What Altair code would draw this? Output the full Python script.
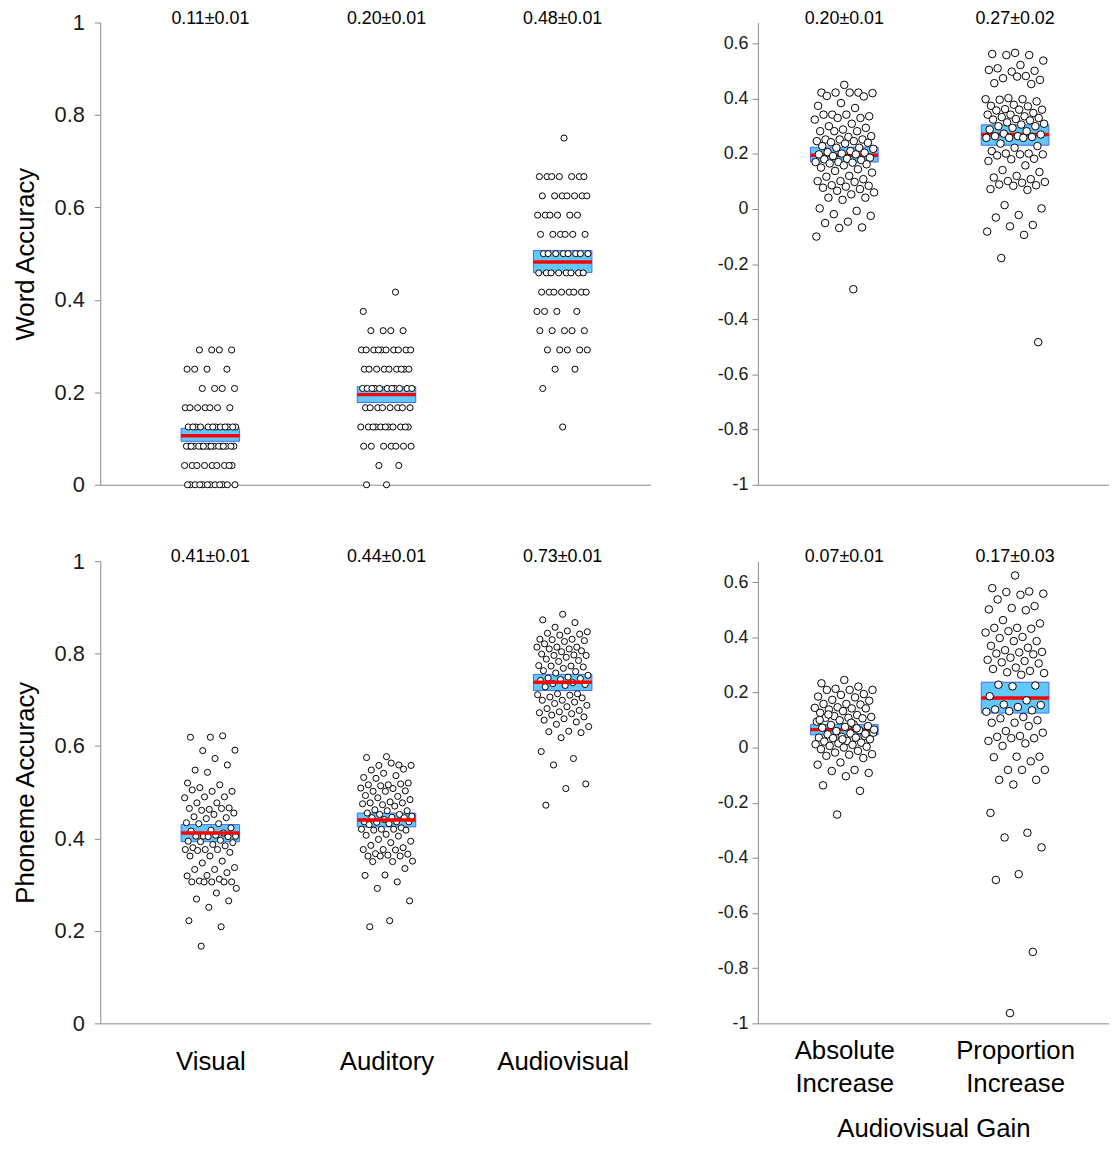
import altair as alt
import pandas as pd

FONT = "Liberation Sans"

# ---------------- data ----------------
# Word accuracy is scored in 24ths: counts of participants per level k/24
word_levels = [k / 24 for k in range(19)]
word_visual_counts = [12, 9, 17, 12, 7, 4, 4, 4, 0, 0, 0, 0, 0, 0, 0, 0, 0, 0, 0]
word_auditory_counts = [2, 2, 7, 11, 8, 11, 9, 10, 4, 1, 1, 0, 0, 0, 0, 0, 0, 0, 0]
word_av_counts = [0, 0, 0, 1, 0, 1, 2, 5, 5, 4, 8, 8, 8, 6, 6, 7, 7, 0, 1]

phon_visual = [0.619, 0.619, 0.622, 0.590, 0.591, 0.573, 0.548, 0.559, 0.543, 0.520, 0.516, 0.510,
               0.502, 0.502, 0.505, 0.490, 0.490, 0.488, 0.477, 0.477, 0.466, 0.463, 0.465, 0.465,
               0.461, 0.455, 0.452, 0.447, 0.445, 0.443, 0.434, 0.432, 0.432, 0.423, 0.418, 0.416,
               0.412, 0.405, 0.405, 0.407, 0.405, 0.404, 0.404, 0.394, 0.396, 0.393, 0.391, 0.387,
               0.380, 0.384, 0.376, 0.376, 0.376, 0.374, 0.370, 0.362, 0.362, 0.351, 0.347, 0.337,
               0.333, 0.333, 0.326, 0.320, 0.319, 0.312, 0.308, 0.306, 0.306, 0.306, 0.306, 0.306,
               0.292, 0.282, 0.269, 0.265, 0.251, 0.222, 0.209, 0.167]
phon_auditory = [0.577, 0.575, 0.559, 0.558, 0.558, 0.563, 0.548, 0.550, 0.541, 0.532, 0.536, 0.530,
                 0.520, 0.516, 0.516, 0.518, 0.514, 0.509, 0.508, 0.502, 0.503, 0.502, 0.493, 0.491,
                 0.488, 0.484, 0.479, 0.477, 0.477, 0.473, 0.475, 0.470, 0.462, 0.460, 0.460, 0.455,
                 0.452, 0.452, 0.448, 0.446, 0.445, 0.445, 0.441, 0.436, 0.436, 0.435, 0.436, 0.432,
                 0.430, 0.423, 0.420, 0.420, 0.420, 0.418, 0.418, 0.409, 0.407, 0.405, 0.398, 0.394,
                 0.391, 0.385, 0.380, 0.376, 0.376, 0.375, 0.367, 0.366, 0.364, 0.362, 0.362, 0.362,
                 0.351, 0.350, 0.350, 0.335, 0.321, 0.320, 0.306, 0.292, 0.265, 0.222, 0.209]
phon_av = [0.885, 0.873, 0.867, 0.857, 0.847, 0.849, 0.844, 0.842, 0.840, 0.831, 0.831, 0.830,
           0.828, 0.826, 0.821, 0.814, 0.814, 0.814, 0.810, 0.810, 0.806, 0.804, 0.799, 0.797,
           0.796, 0.796, 0.792, 0.788, 0.785, 0.783, 0.774, 0.773, 0.773, 0.771, 0.768, 0.763,
           0.761, 0.758, 0.753, 0.749, 0.747, 0.746, 0.744, 0.742, 0.737, 0.735, 0.733, 0.731,
           0.728, 0.713, 0.713, 0.711, 0.710, 0.706, 0.704, 0.699, 0.699, 0.695, 0.692, 0.688,
           0.685, 0.681, 0.677, 0.674, 0.672, 0.670, 0.667, 0.663, 0.659, 0.656, 0.652, 0.647,
           0.642, 0.632, 0.631, 0.629, 0.618, 0.588, 0.573, 0.559, 0.518, 0.508, 0.472]

gain_word_abs = [0.450, 0.422, 0.422, 0.422, 0.420, 0.422, 0.410, 0.408, 0.384, 0.374, 0.366, 0.342,
                 0.336, 0.342, 0.342, 0.330, 0.330, 0.324, 0.309, 0.300, 0.294, 0.288, 0.282, 0.282,
                 0.282, 0.264, 0.261, 0.252, 0.252, 0.252, 0.246, 0.246, 0.242, 0.240, 0.237, 0.228,
                 0.222, 0.222, 0.218, 0.210, 0.206, 0.204, 0.201, 0.198, 0.198, 0.192, 0.186, 0.182,
                 0.180, 0.177, 0.170, 0.170, 0.168, 0.165, 0.162, 0.158, 0.150, 0.144, 0.138, 0.132,
                 0.120, 0.117, 0.108, 0.101, 0.101, 0.098, 0.086, 0.084, 0.081, 0.077, 0.072, 0.066,
                 0.060, 0.053, 0.041, 0.041, 0.033, 0.002, -0.007, -0.019, -0.025, -0.046, -0.051,
                 -0.067, -0.069, -0.100, -0.291]
gain_word_prop = [0.566, 0.562, 0.558, 0.558, 0.538, 0.522, 0.510, 0.501, 0.498, 0.504, 0.482, 0.474,
                  0.468, 0.480, 0.456, 0.453, 0.402, 0.398, 0.398, 0.396, 0.390, 0.378, 0.374, 0.372,
                  0.362, 0.360, 0.360, 0.357, 0.348, 0.342, 0.342, 0.336, 0.333, 0.330, 0.326, 0.324,
                  0.321, 0.314, 0.309, 0.306, 0.300, 0.300, 0.294, 0.288, 0.282, 0.273, 0.270, 0.264,
                  0.264, 0.261, 0.258, 0.258, 0.258, 0.237, 0.228, 0.222, 0.210, 0.201, 0.201, 0.198,
                  0.198, 0.194, 0.182, 0.180, 0.174, 0.158, 0.141, 0.134, 0.120, 0.114, 0.108, 0.101,
                  0.098, 0.095, 0.089, 0.086, 0.084, 0.072, 0.069, 0.014, 0.002, -0.022, -0.031,
                  -0.058, -0.063, -0.082, -0.094, -0.178, -0.483]
gain_phon_abs = [0.245, 0.233, 0.221, 0.213, 0.209, 0.209, 0.209, 0.194, 0.191, 0.185, 0.182, 0.173,
                 0.170, 0.158, 0.158, 0.156, 0.146, 0.144, 0.142, 0.138, 0.142, 0.132, 0.126, 0.118,
                 0.114, 0.111, 0.108, 0.108, 0.106, 0.099, 0.094, 0.084, 0.082, 0.078, 0.075, 0.072,
                 0.063, 0.060, 0.054, 0.051, 0.048, 0.042, 0.039, 0.036, 0.036, 0.034, 0.030, 0.024,
                 0.022, 0.018, 0.015, 0.012, 0.010, 0.006, 0.003, 0.000, -0.006, -0.012, -0.018,
                 -0.024, -0.026, -0.030, -0.038, -0.054, -0.062, -0.081, -0.085, -0.092, -0.104,
                 -0.137, -0.157, -0.243, 0.065, 0.090, 0.120, 0.050, 0.030, 0.100, 0.070]
gain_phon_prop = [0.624, 0.578, 0.566, 0.564, 0.558, 0.554, 0.537, 0.513, 0.506, 0.501, 0.498, 0.462,
                  0.450, 0.434, 0.434, 0.431, 0.422, 0.417, 0.401, 0.397, 0.386, 0.386, 0.369, 0.362,
                  0.353, 0.347, 0.345, 0.341, 0.338, 0.326, 0.318, 0.314, 0.309, 0.305, 0.290, 0.285,
                  0.278, 0.273, 0.270, 0.264, 0.228, 0.225, 0.222, 0.186, 0.171, 0.156, 0.154, 0.147,
                  0.138, 0.135, 0.132, 0.130, 0.111, 0.106, 0.099, 0.090, 0.090, 0.078, 0.060, 0.054,
                  0.042, 0.039, 0.034, 0.034, 0.024, 0.015, 0.006, -0.033, -0.033, -0.035, -0.050,
                  -0.081, -0.081, -0.081, -0.117, -0.117, -0.134, -0.237, -0.309, -0.326, -0.362,
                  -0.459, -0.480, -0.741, -0.963]

# summary (mean line, SEM box, label)
word_mean = [0.106, 0.195, 0.482]
word_lo = [0.094, 0.178, 0.459]
word_hi = [0.122, 0.212, 0.507]
word_text = ["0.11±0.01", "0.20±0.01", "0.48±0.01"]
phon_mean = [0.412, 0.440, 0.738]
phon_lo = [0.393, 0.425, 0.720]
phon_hi = [0.430, 0.455, 0.755]
phon_text = ["0.41±0.01", "0.44±0.01", "0.73±0.01"]
gword_mean = [0.195, 0.270]
gword_lo = [0.170, 0.231]
gword_hi = [0.224, 0.305]
gword_text = ["0.20±0.01", "0.27±0.02"]
gphon_mean = [0.065, 0.180]
gphon_lo = [0.046, 0.125]
gphon_hi = [0.084, 0.237]
gphon_text = ["0.07±0.01", "0.17±0.03"]

conditions = ["Visual", "Auditory", "Audiovisual"]
gain_names = [["Absolute", "Increase"], ["Proportion", "Increase"]]


def expand(counts):
    out = []
    for lev, c in zip(word_levels, counts):
        out += [lev] * c
    return out


def points_df(groups):
    rows = []
    for g, vals in enumerate(groups, start=1):
        for j, v in enumerate(vals):
            rows.append({"g": g, "v": v, "j": j})
    return pd.DataFrame(rows)


def summary_df(mean, lo, hi, text):
    return pd.DataFrame({"g": list(range(1, len(mean) + 1)), "mean": mean, "lo": lo,
                         "hi": hi, "t": text})


GRAY = "#8a8a8a"


def panel(groups, mean, lo, hi, text, xdom, ydom, xaxis, yaxis, width, height,
          size, half, jit, points_on_top):
    xs = alt.Scale(domain=xdom, nice=False, zero=False)
    ys = alt.Scale(domain=ydom, nice=False, zero=False)
    pdf = points_df(groups)
    sdf = summary_df(mean, lo, hi, text)

    box = alt.Chart(sdf).transform_calculate(
        x0=f"datum.g - {half}", x1=f"datum.g + {half}"
    ).mark_rect(fill="#62c8fb", stroke="#3f6cff", strokeWidth=1).encode(
        x=alt.X("x0:Q", scale=xs, axis=xaxis), x2="x1:Q",
        y=alt.Y("lo:Q", scale=ys, axis=yaxis), y2="hi:Q")

    meanline = alt.Chart(sdf).transform_calculate(
        x0=f"datum.g - {half}", x1=f"datum.g + {half}"
    ).mark_rule(color="#ff0000", strokeWidth=3.5).encode(
        x=alt.X("x0:Q", scale=xs, axis=xaxis), x2="x1:Q",
        y=alt.Y("mean:Q", scale=ys, axis=yaxis))

    pts = alt.Chart(pdf).transform_calculate(
        xj=f"datum.g + (((datum.j * 0.618034 + 0.5) % 1) - 0.5) * {2 * jit}"
    ).mark_circle(size=size, fill="white", stroke="black", strokeWidth=1,
                  opacity=1, fillOpacity=1).encode(
        x=alt.X("xj:Q", scale=xs, axis=xaxis),
        y=alt.Y("v:Q", scale=ys, axis=yaxis))

    labels = alt.Chart(sdf).mark_text(fontSize=18, baseline="alphabetic", font=FONT,
                                      color="black").encode(
        x=alt.X("g:Q", scale=xs, axis=xaxis), y=alt.value(1), text="t:N")

    layers = [box, meanline, pts] if points_on_top else [box, pts, meanline]
    return alt.layer(*layers, labels).properties(width=width, height=height)


def left_y(title):
    return alt.Axis(values=[0, 0.2, 0.4, 0.6, 0.8, 1], format="~g", title=title,
                    titleFontSize=26, titleFontWeight="normal", titlePadding=16,
                    titleColor="black", labelFontSize=22, labelColor="#1a1a1a",
                    tickSize=6, labelPadding=10, domainColor=GRAY, tickColor=GRAY,
                    grid=False)


right_y = alt.Axis(values=[-1, -0.8, -0.6, -0.4, -0.2, 0, 0.2, 0.4, 0.6],
                   labelExpr="datum.value < 0 ? '-' + format(-datum.value, '~g') : format(datum.value, '~g')",
                   title=None, labelFontSize=18, labelColor="#1a1a1a", tickSize=6,
                   labelPadding=4, domainColor=GRAY, tickColor=GRAY, grid=False)

x_none = alt.Axis(labels=False, ticks=False, title=None, domainColor=GRAY, grid=False)

x_cond = alt.Axis(values=[1, 2, 3], labelExpr=f"{['', *conditions]}[datum.value]",
                  ticks=False, labelFontSize=26, labelPadding=26, labelColor="black",
                  labelFlush=False, title=None, domainColor=GRAY, grid=False)

x_gain = alt.Axis(values=[1, 2],
                  labelExpr=f"datum.value == 1 ? {gain_names[0]} : {gain_names[1]}",
                  ticks=False, labelFontSize=26, labelPadding=14, labelLineHeight=34,
                  labelColor="black", labelFlush=False, title="Audiovisual Gain",
                  titleFontSize=26, titleFontWeight="normal", titleColor="black",
                  titlePadding=19, domainColor=GRAY, grid=False)

LW, RW, H = 555, 354, 466
LDOM = [0.375, 3.5]
RDOM = [0.494, 2.55]
RY = [-1, 0.676]

word_panel = panel([expand(word_visual_counts), expand(word_auditory_counts), expand(word_av_counts)],
                   word_mean, word_lo, word_hi, word_text, LDOM, [0, 1], x_none,
                   left_y("Word Accuracy"), LW, H, 38, 0.166, 0.148, False)
gword_panel = panel([gain_word_abs, gain_word_prop], gword_mean, gword_lo, gword_hi, gword_text,
                    RDOM, RY, x_none, right_y, RW, H, 58, 0.198, 0.175, True)
phon_panel = panel([phon_visual, phon_auditory, phon_av], phon_mean, phon_lo, phon_hi, phon_text,
                   LDOM, [0, 1], x_cond, left_y("Phoneme Accuracy"), LW, H, 38, 0.166, 0.148, False)
gphon_panel = panel([gain_phon_abs, gain_phon_prop], gphon_mean, gphon_lo, gphon_hi, gphon_text,
                    RDOM, RY, x_gain, right_y, RW, H, 58, 0.198, 0.175, True)

chart = alt.vconcat(
    alt.hconcat(word_panel, gword_panel, spacing=66),
    alt.hconcat(phon_panel, gphon_panel, spacing=66),
    spacing=53,
).properties(
    padding={"left": 4, "top": -3, "right": 0, "bottom": 0}
).configure(font=FONT).configure_view(stroke=None)

chart.save("out.html", embed_options={"renderer": "svg", "actions": False})
